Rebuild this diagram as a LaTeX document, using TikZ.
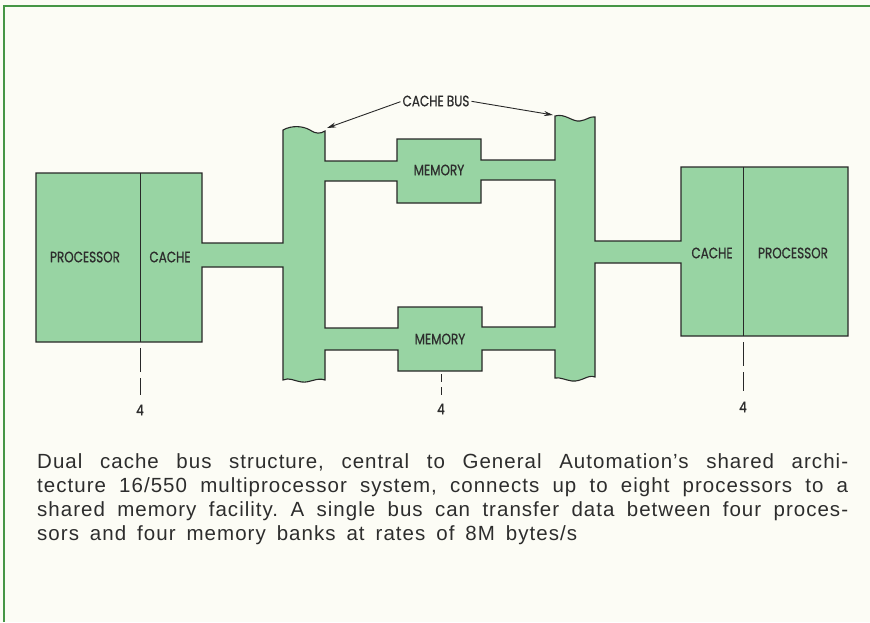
\documentclass[tikz,border=0pt]{standalone}
\usepackage{fontspec}
\setmainfont{Liberation Sans}
\newfontfamily\capfont[LetterSpace=5]{Liberation Sans}
\newfontfamily\lblfont[FakeStretch=0.8, FakeBold=0.8]{Poppins}
\usetikzlibrary{arrows.meta}
\definecolor{bg}{RGB}{252,252,245}
\definecolor{busgreen}{RGB}{152,212,163}
\definecolor{framegreen}{RGB}{70,150,70}
\definecolor{ink}{RGB}{40,40,40}
\definecolor{txt}{RGB}{45,45,45}
\begin{document}
\begin{tikzpicture}[x=1pt,y=-1pt,
 lbl/.style={font=\lblfont\fontsize{15}{17}\selectfont, text=txt, inner sep=0pt},
 num/.style={font=\lblfont\fontsize{15}{17}\selectfont, text=txt, inner sep=0pt},
 outline/.style={draw=ink, line width=1.1pt, fill=busgreen, even odd rule, line join=miter},
 ticks/.style={draw=ink, line width=0.9pt, dash pattern=on 24pt off 6pt},
 shortticks/.style={draw=ink, line width=0.9pt, dash pattern=on 8pt off 5pt},
 divider/.style={draw=ink, line width=1pt},
 pointer/.style={draw=ink, line width=0.9pt, -{Stealth[length=9pt,width=5pt]}},
 capline/.style={anchor=base west, inner sep=0pt, text=txt, font=\capfont\fontsize{20.5}{24}\selectfont\frenchspacing}]

\fill[bg] (0,0) rectangle (870,622);
\useasboundingbox (0,0) rectangle (870,622);
\draw[framegreen, line width=2pt] (4,622) -- (4,6) -- (870,6);

\path[outline]
 (36,173) -- (202,173) -- (202,243) -- (283,243) -- (283,130)
 .. controls (292,125) and (303,126) .. (310,130) .. controls (316,134) and (320,134) .. (325,131)
 -- (325,161) -- (397,161) -- (397,139) -- (481,139) -- (481,160) -- (555,160) -- (555,116)
 .. controls (565,113) and (572,122) .. (580,121) .. controls (587,120) and (590,116) .. (595,117)
 -- (595,241) -- (681,241) -- (681,167) -- (848,167) -- (848,336) -- (681,336) -- (681,263) -- (595,263) -- (595,377)
 .. controls (588,374) and (582,382) .. (572,381) .. controls (565,380) and (560,377) .. (555,378)
 -- (555,350) -- (482,350) -- (482,371) -- (398,371) -- (398,350) -- (325,350) -- (325,380)
 .. controls (317,377) and (310,383) .. (302,382) .. controls (294,381) and (289,377) .. (283,380)
 -- (283,267) -- (202,267) -- (202,342) -- (36,342) -- cycle
 (325,181) -- (397,181) -- (397,203) -- (481,203) -- (481,180) -- (555,180) -- (555,327) -- (482,327) -- (482,307) -- (398,307) -- (398,328) -- (325,328) -- cycle;

\draw[divider] (140,173) -- (140,342);
\draw[divider] (743,167) -- (743,336);

\node[lbl] (lproc) at (85,257) {PROCESSOR};
\node[lbl] (lcache) at (170,257) {CACHE};
\node[lbl] (rcache) at (712,253) {CACHE};
\node[lbl] (rproc) at (793,253) {PROCESSOR};
\node[lbl] (mem1) at (439,170) {MEMORY};
\node[lbl] (mem2) at (440,339) {MEMORY};
\node[lbl] (cachebus) at (436,101) {CACHE BUS};

\coordinate (ltop) at (327,128);
\coordinate (rtop) at (553,115);
\draw[pointer, shorten <=2pt] (cachebus.west) -- (ltop);
\draw[pointer, shorten <=2pt] (cachebus.east) -- (rtop);

\coordinate (ld) at (140,348);
\coordinate (md) at (441,374);
\coordinate (rd) at (743,342);
\node[num] (l4) at (140,410) {4};
\node[num] (m4) at (441,409) {4};
\node[num] (r4) at (743,407) {4};
\draw[ticks, shorten >=9pt] (ld) -- (l4);
\draw[shortticks, shorten >=8pt] (md) -- (m4);
\draw[ticks, shorten >=10pt] (rd) -- (r4);

\node[capline] (cap1) at (37,468) {\spaceskip=7pt plus 30pt minus 3pt\makebox[811pt][s]{Dual cache bus structure, central to General Automation’s shared archi-}};
\node[capline] (cap2) at (37,492) {\spaceskip=7pt plus 30pt minus 3pt\makebox[811pt][s]{tecture 16/550 multiprocessor system, connects up to eight processors to a}};
\node[capline] (cap3) at (37,516) {\spaceskip=7pt plus 30pt minus 3pt\makebox[811pt][s]{shared memory facility. A single bus can transfer data between four proces-}};
\node[capline] (cap4) at (37,540) {\spaceskip=11pt sors and four memory banks at rates of 8M bytes/s};
\end{tikzpicture}
\end{document}
